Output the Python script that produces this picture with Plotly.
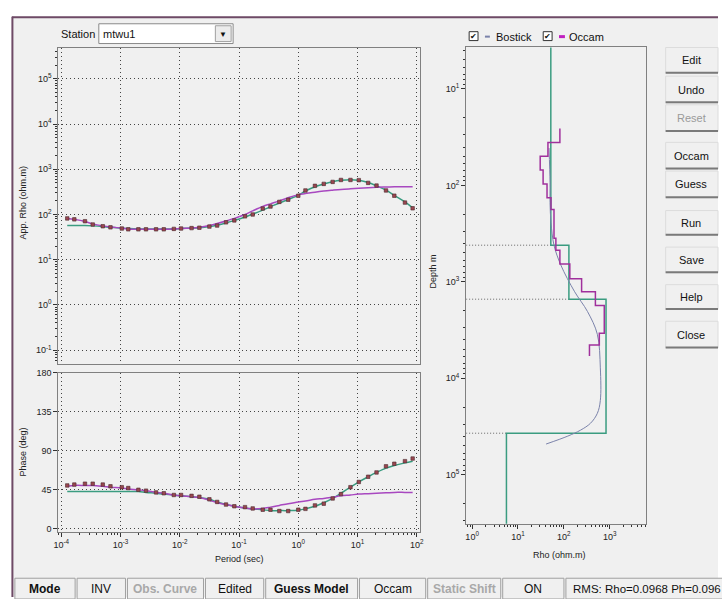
import plotly.graph_objects as go

# ---------------- data ----------------
periods = [1.26e-4, 1.66e-4, 2.51e-4, 3.39e-4, 5.01e-4, 6.76e-4, 1.05e-3, 1.35e-3,
           2.0e-3, 2.69e-3, 3.98e-3, 5.37e-3, 7.94e-3, 1.05e-2, 1.58e-2, 2.14e-2,
           3.16e-2, 4.27e-2, 6.03e-2, 8.32e-2, 0.126, 0.170, 0.251, 0.339,
           0.479, 0.676, 1.0, 1.32, 1.91, 2.69, 3.80, 5.25,
           7.59, 10.5, 15.1, 20.9, 30.2, 41.7, 63.1, 85.1]
rho_obs = [82, 78, 71, 60, 55, 52, 49, 47, 47, 47, 47, 47, 48, 49, 50, 51,
           54, 57, 67, 74, 91, 100, 135, 150, 190, 212, 260, 340, 430, 475, 525, 580,
           580, 575, 500, 435, 340, 260, 183, 137]
phase_obs = [50, 51, 52, 52, 51, 49, 48, 47, 45, 44, 42, 41, 39, 39, 38, 37,
             34, 31, 28, 26, 25, 23.5, 22, 22, 20.5, 20.5, 22, 23, 27, 29, 35, 40,
             48, 54, 60, 65, 72, 75, 78, 81]
rho_bostick_resp = [57, 57, 57, 56, 54, 52, 50, 49, 48, 48, 48, 48, 48, 49, 50, 51,
                    54, 58, 65, 74, 88, 102, 125, 148, 180, 215, 265, 330, 410, 470, 530, 570,
                    590, 570, 510, 430, 345, 265, 190, 140]
phase_bostick_resp = [43, 43, 43, 43, 43, 43, 43, 43, 43, 42, 41, 40, 39, 38, 37, 36,
                      34, 31, 28, 26, 24, 23, 22, 21, 21, 21, 21.5, 23, 26, 30, 35, 41,
                      48, 54, 60, 65, 70, 73, 76, 78]
rho_occam_resp = [82, 78, 70, 62, 56, 53, 50, 48, 47, 47, 47, 47, 48, 49, 50, 52,
                  57, 63, 72, 82, 100, 120, 150, 172, 200, 235, 275, 290, 312, 330, 345, 358,
                  370, 380, 392, 400, 405, 408, 410, 410]
phase_occam_resp = [49, 50, 50, 50, 49, 48, 47, 46, 45, 44, 42, 41, 39, 38, 37, 36,
                    33, 30, 28, 26, 24, 23, 23.5, 25, 27, 29, 31, 32, 34, 35, 36.5, 38,
                    39, 40, 40.5, 41, 41.5, 42, 42, 42]

# layered guess model (depth plot, green)
guess_rho = [52, 129, 832, 5.6]
guess_bounds = [417, 1514, 37150]
# Occam layered model (magenta)
occam_rho = [82, 45, 30.5, 35.3, 43, 52.5, 61, 67, 82, 135, 244, 488, 762, 594, 362]
occam_depth = [25.7, 35.8, 49.8, 69.3, 96.6, 134, 178, 354, 470, 654, 931, 1267,
               1762, 3415, 4533, 5875]
# Bostick smooth curve
bost_rho = [47.5, 50, 50, 52.5, 61, 86, 172, 328, 538, 625, 625, 538, 381, 232, 122, 41]
bost_depth = [41, 94, 151, 243, 417, 670, 1267, 2032, 3500, 7800, 17000, 23100,
              29300, 34500, 39800, 48100]

# tick labels
rho_exps = [-1, 0, 1, 2, 3, 4, 5]
period_exps = [-4, -3, -2, -1, 0, 1, 2]
model_rho_exps = [0, 1, 2, 3]
depth_exps = [1, 2, 3, 4, 5]
phase_ticks = [0, 45, 90, 135, 180]

W, H = 722, 599
def X(p): return p / W
def Y(p): return 1 - p / H

GREEN = '#3a9c80'
PURPLE = '#a848c0'
MAGENTA = '#a0309c'
BOST = '#7a82aa'
MARK = '#9a4650'
FONT = 'Liberation Sans'

fig = go.Figure()

# ---- rho panel ----
fig.add_trace(go.Scatter(x=periods, y=rho_bostick_resp, mode='lines', xaxis='x', yaxis='y',
                         line=dict(color=GREEN, width=1.5, shape='spline')))
fig.add_trace(go.Scatter(x=periods, y=rho_occam_resp, mode='lines', xaxis='x', yaxis='y',
                         line=dict(color=PURPLE, width=1.5, shape='spline')))
fig.add_trace(go.Scatter(x=periods, y=rho_obs, mode='markers', xaxis='x', yaxis='y',
                         marker=dict(symbol='square', size=3.5, color=MARK,
                                     line=dict(color='#4a2a2e', width=0.6))))
# ---- phase panel ----
fig.add_trace(go.Scatter(x=periods, y=phase_bostick_resp, mode='lines', xaxis='x2', yaxis='y2',
                         line=dict(color=GREEN, width=1.5, shape='spline')))
fig.add_trace(go.Scatter(x=periods, y=phase_occam_resp, mode='lines', xaxis='x2', yaxis='y2',
                         line=dict(color=PURPLE, width=1.5, shape='spline')))
fig.add_trace(go.Scatter(x=periods, y=phase_obs, mode='markers', xaxis='x2', yaxis='y2',
                         marker=dict(symbol='square', size=3.5, color=MARK,
                                     line=dict(color='#4a2a2e', width=0.6))))

# ---- depth panel ----
xmin_rho = 0.74
top_d, bot_d = 1.0, 1e6
for i, b in enumerate(guess_bounds):
    xr = min(guess_rho[i], guess_rho[i + 1])
    fig.add_trace(go.Scatter(x=[xmin_rho, xr], y=[b, b], mode='lines', xaxis='x3', yaxis='y3',
                             line=dict(color='#666666', width=1, dash='1px,2px')))
gx, gy = [], []
edges = [top_d] + guess_bounds + [bot_d]
for i, r in enumerate(guess_rho):
    gx += [r, r]
    gy += [edges[i], edges[i + 1]]
fig.add_trace(go.Scatter(x=gx, y=gy, mode='lines', xaxis='x3', yaxis='y3',
                         line=dict(color=GREEN, width=1.5)))
fig.add_trace(go.Scatter(x=bost_rho, y=bost_depth, mode='lines', xaxis='x3', yaxis='y3',
                         line=dict(color=BOST, width=1, shape='spline')))
ox, oy = [], []
for i, r in enumerate(occam_rho):
    ox += [r, r]
    oy += [occam_depth[i], occam_depth[i + 1]]
fig.add_trace(go.Scatter(x=ox, y=oy, mode='lines', xaxis='x3', yaxis='y3',
                         line=dict(color=MAGENTA, width=1.5)))

def pow_ticks(exps):
    return dict(tickmode='array', tickvals=[10.0 ** e for e in exps],
                ticktext=['10<sup>%d</sup>' % e for e in exps])

def minor_vals(exps_lo, exps_hi):
    v = []
    for e in range(exps_lo, exps_hi + 1):
        for m in range(2, 10):
            v.append(m * 10.0 ** e)
    return dict(ticks='outside', ticklen=2, tickcolor='#333', tickmode='array',
                tickvals=v, showgrid=False)

tickfont = dict(family=FONT, size=9, color='#222')
common = dict(showline=True, mirror=True, linecolor='#808080', linewidth=1,
              tickfont=tickfont, tickcolor='#333', ticklen=4, zeroline=False)
grid = dict(showgrid=True, gridcolor='#444444', griddash='1px,3px', gridwidth=1)

fig.update_layout(
    width=W, height=H, margin=dict(l=0, r=0, t=0, b=0),
    paper_bgcolor='white', plot_bgcolor='white', showlegend=False,
    xaxis=dict(domain=[X(54), X(420)], type='log', range=[-4.05, 2.05],
               anchor='y', showticklabels=False, ticks='', **pow_ticks(period_exps),
               **grid, **common),
    yaxis=dict(domain=[Y(363), Y(44)], type='log', range=[-1.30, 5.67], ticks='outside',
               anchor='x', minor=minor_vals(-2, 5), **pow_ticks(rho_exps), **grid, **common),
    xaxis2=dict(domain=[X(54), X(420)], type='log', range=[-4.05, 2.05], ticks='outside',
                anchor='y2', minor=minor_vals(-5, 2), **pow_ticks(period_exps), **grid, **common),
    yaxis2=dict(domain=[Y(533), Y(372)], range=[-3.4, 180], tickvals=phase_ticks,
                ticks='outside', anchor='x2', **grid, **common),
    xaxis3=dict(domain=[X(467), X(649)], type='log', range=[-0.13, 3.79], ticks='outside',
                anchor='y3', minor=minor_vals(-1, 3), showgrid=False,
                **pow_ticks(model_rho_exps), **common),
    yaxis3=dict(domain=[Y(525), Y(43)], type='log', range=[5.51, 0.57], ticks='outside',
                anchor='x3', minor=minor_vals(0, 5), showgrid=False,
                **pow_ticks(depth_exps), **common),
)

shapes = []
ann = []
def rect(x0, y0, x1, y1, fill=None, line=None, lw=1):
    shapes.append(dict(type='rect', xref='paper', yref='paper', x0=X(x0), x1=X(x1),
                       y0=Y(y1), y1=Y(y0), fillcolor=fill or 'rgba(0,0,0,0)',
                       line=dict(color=line or 'rgba(0,0,0,0)', width=lw if line else 0),
                       layer='below'))
def hline(x0, x1, y, color, w=1, layer='above'):
    shapes.append(dict(type='line', xref='paper', yref='paper', x0=X(x0), x1=X(x1),
                       y0=Y(y), y1=Y(y), line=dict(color=color, width=w), layer=layer))
def vline(x, y0, y1, color, w=1, layer='above'):
    shapes.append(dict(type='line', xref='paper', yref='paper', x0=X(x), x1=X(x),
                       y0=Y(y0), y1=Y(y1), line=dict(color=color, width=w), layer=layer))
def text(x, y, s, size=11, color='#111', anchor='center', bold=False, angle=0, family=FONT):
    if bold:
        s = '<b>' + s + '</b>'
    ann.append(dict(xref='paper', yref='paper', x=X(x), y=Y(y), text=s, showarrow=False,
                    xanchor=anchor, yanchor='middle', textangle=angle,
                    font=dict(family=family, size=size, color=color)))

# window
rect(7, 12, 722, 599, fill='#f0f0f0')
hline(7, 722, 12.5, '#6e4a66', 2, layer='below')
vline(7.5, 12, 599, '#6e4a66', 2, layer='below')

# station dropdown
text(55, 29, 'Station', 11, anchor='left')
rect(95, 19, 231, 39, fill='white', line='#8a8a8a')
rect(213, 21, 229, 37, fill='#ececec', line='#a0a0a0')
text(221, 30, '▼', 8, '#111')
text(97, 29, 'mtwu1', 11, anchor='left')

# axis titles
text(18, 200, 'App. Rho (ohm.m)', 9, '#222', angle=-90)
text(18, 452, 'Phase (deg)', 9, '#222', angle=-90)
text(237, 561, 'Period (sec)', 9, '#222')
text(433, 270, 'Depth m', 9, '#222', angle=-90)
text(561, 557, 'Rho (ohm.m)', 9, '#222')

# legend of depth panel
for cx in (470, 545):
    rect(cx, 27, cx + 9, 36, fill='white', line='#333')
    text(cx + 4.5, 31.5, '✔', 8, '#111')
hline(486, 491, 32, BOST, 2)
text(495, 32, 'Bostick', 11, '#111', anchor='left')
hline(561, 567, 32, '#c020c0', 3)
text(569, 32, 'Occam', 11, '#111', anchor='left')

# buttons
btns = [('Edit', 43, 69, '#111'), ('Undo', 72, 99, '#111'), ('Reset', 101, 128, '#9a9a9a'),
        ('Occam', 139, 166, '#111'), ('Guess', 168, 195, '#111'), ('Run', 208, 233, '#111'),
        ('Save', 245, 271, '#111'), ('Help', 283, 308, '#111'), ('Close', 320, 347, '#111')]
for lab, y0, y1, col in btns:
    rect(669, y0, 722, y1, fill='#f0f0f0', line='#dcdcdc')
    hline(669, 722, y1 - 0.5, '#7a7a7a', 2)
    text(695, (y0 + y1) / 2, lab, 11, col)

# status bar
cells = [('Mode', 10, 71, '#111', True), ('INV', 73, 122, '#111', False),
         ('Obs. Curve', 124, 201, '#a8a8a8', True), ('Edited', 203, 262, '#111', False),
         ('Guess Model', 264, 357, '#111', True), ('Occam', 359, 426, '#111', False),
         ('Static Shift', 428, 502, '#a8a8a8', True), ('ON', 504, 566, '#111', False),
         ('RMS: Rho=0.0968 Ph=0.096', 568, 740, '#111', False)]
for lab, x0, x1, col, b in cells:
    rect(x0, 580, x1, 601, fill='#f0f0f0', line='#a0a0a0')
    if lab.startswith('RMS'):
        text(573, 591, lab, 11.5, col, anchor='left')
    else:
        text((x0 + x1) / 2, 591, lab, 12, col, bold=b)

fig.update_layout(shapes=shapes, annotations=ann)
fig.write_html('out.html', config=dict(displayModeBar=False),
               post_script="document.body.style.margin='0';"
                           "document.body.style.overflow='hidden';")
